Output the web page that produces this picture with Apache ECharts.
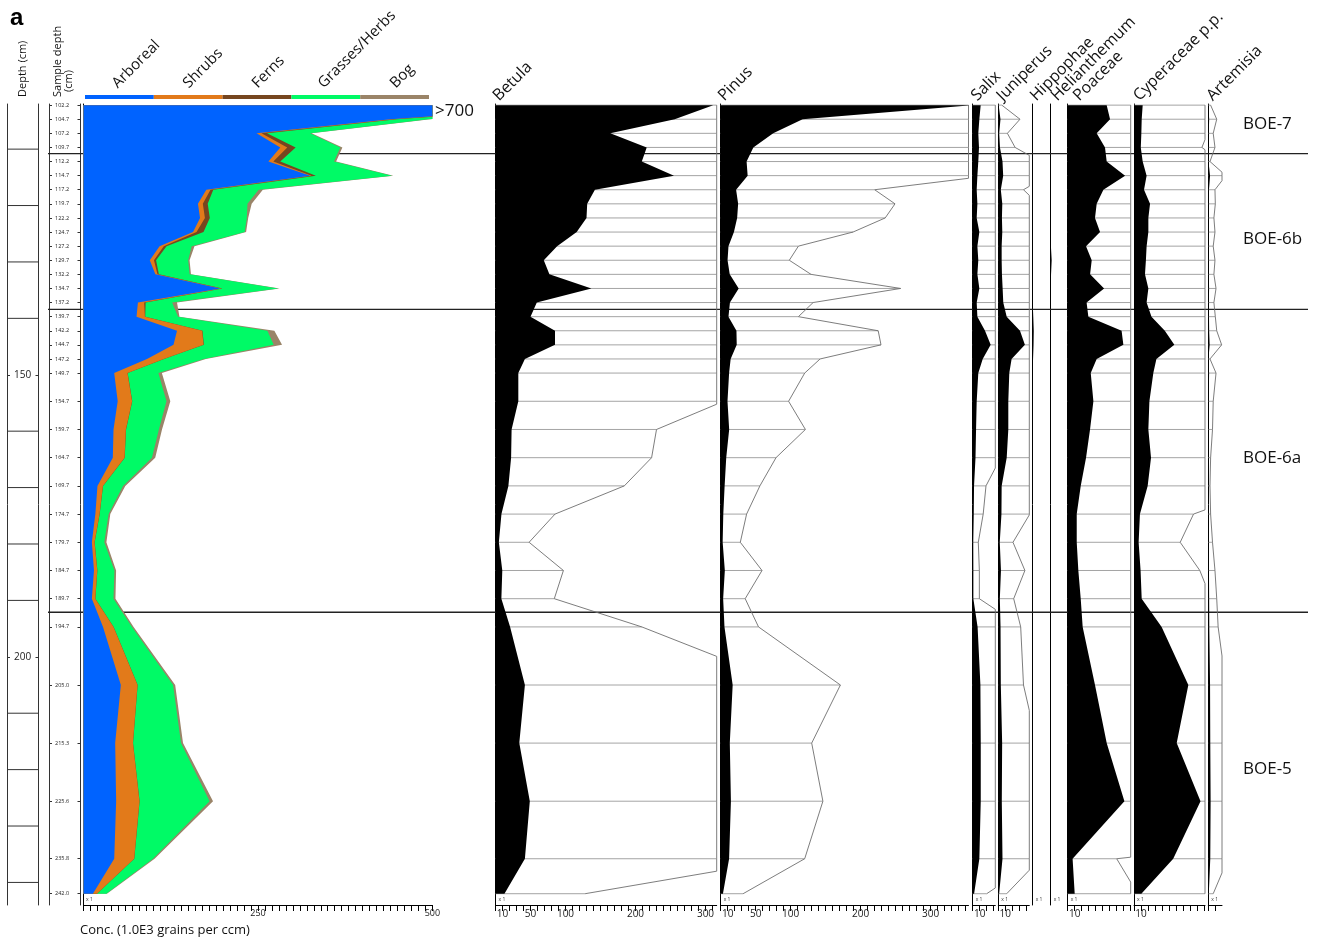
<!DOCTYPE html>
<html><head><meta charset="utf-8">
<script src="https://cdn.jsdelivr.net/npm/echarts@6/dist/echarts.min.js"></script>
<style>html,body{margin:0;padding:0;background:#fff}#c{width:1317px;height:939px}</style>
</head><body><div id="c"></div><script>
// ---------------- DATA ----------------
const sampleDepths = [102.2,104.7,107.2,109.7,112.2,114.7,117.2,119.7,122.2,124.7,127.2,129.7,132.2,134.7,137.2,139.7,142.2,144.7,147.2,149.7,154.7,159.7,164.7,169.7,174.7,179.7,184.7,189.7,194.7,205.0,215.3,225.6,235.8,242.0];
// concentration groups (1.0E3 grains per ccm)
const arboreal = [720,440,248,282,265,325,176,164,167,157,109,95,103,196,78,76,134,129,91,44,49,43,42,20,17,12,15,12,28,53.5,45.4,46.8,44,13.5];
const shrubs   = [10,6,7,10,7,2,6,7,7,5,6,6,3,2,9,12,36,43,24,19,20.6,17.7,16.8,7.8,6,3.8,4.7,4.8,15,23.9,25.4,33.4,28.6,5.7];
const ferns    = [5,3,8,12,10,6,4,7,7,10,4,3,2,1,2,0.5,0.5,0.5,0.3,0.3,0.3,0.3,0.3,0.2,0.2,0.2,0.2,0.2,0.2,0.2,0.2,0.2,0.2,0.1];
const grasses  = [20,45,62,64,77,109,65,57,53,59,36,46,44,80,38,47,93,100,57,44,49,47,39,28.6,12.8,13.8,24.4,26,26.3,50.8,68.7,100.3,26.8,13.3];
const bog      = [3,3,2,3,3,2,6,6,2,2,4,2,2,2,7,2,10,12,3,5,5.5,4.5,4.7,3.3,2.4,3,2.4,2.8,2.3,3,2.9,4.9,2.3,1];
// taxa
const betula = [311,256,164,216,209,255,142,131,130,116,88,69,77,137,59,50,85,85,42,32.6,32.6,23,22.3,18.4,8.5,4.8,9.7,8.4,20.9,42,34,49,42,12.8];
const pinus = [360,117,75,46.6,37,38.5,22,24.9,23.5,18.9,11.1,9.8,12.9,25.7,13.2,11.1,22.5,22.9,14.2,12.0,9.7,12.1,7.9,5.6,3.7,2.8,5.9,3.5,5.4,17.1,13.0,14.6,12.0,3.2];
const salix = [11.4,9.5,8,9,8,6.7,5.7,6.7,5.7,9.5,6.7,8,6.7,9.5,5.7,6.7,17.6,25.7,14.3,8,5.7,4.8,4,1.9,1.5,0.8,0.95,0.95,7,11,11.5,11.5,9.5,2.0];
const juniperus = [0.5,3.1,1.3,2.4,6,7,3.6,5.7,5.2,5.7,4.8,4.8,5.2,6.2,7.1,12,31,38,19,15.7,14.3,14.3,12,4.8,4.5,2.1,3.8,2.2,3.2,3.6,5.5,5,6,1.2];
const hippophae = [0,0,0,0,0,0,0,0,0,0,0,0,0,0,0,0.8,1.5,1.2,0.5,0,0,0,0,0,0,0,0,0,0,0,0,0,0,0];
const helianthemum = [0,0,0,0,0,0,0,0,0,0,0.3,1.4,0.5,0,0,0,0,0,0,0,0,0,0,0,0,0,0,0,0,0,0.4,0.4,0,0];
const poaceae = [55.7,60.5,41.4,53.3,55.7,82,51,41.4,39,46.2,26.2,34.3,32,52,27,29.5,77,79.5,41.4,32.9,36.7,31.9,26.2,18.6,12.9,12.9,15.2,18.6,21.4,39,55.7,81,7.0,10];
const cyperaceae = [12.4,11,10.5,9.7,12.4,18,14.3,22.9,20.5,20.5,18,17,15.7,20.5,18,25,44,57.6,32,27.6,22,20.5,24.3,19.5,8.5,6.6,9.4,11,39.5,77.6,61,95,56,10.5];
const artemisia = [0.33,1.2,0.7,0.95,0.24,2.5,0.95,1.0,0.8,0.95,0.7,0.95,0.8,1.1,0.8,1.0,1.2,1.9,0.24,1.1,0.7,0.6,0.33,0.24,0.33,0.6,0.95,1.2,1.4,2.5,2.8,3.3,2.8,0.7];
// axes / zones
const depthLabelValues = [150,200];
const depthGridLines = [110,120,130,140,160,170,180,190,210,220,230,240];
const zoneDepths = [110.8,138.4,192.1];
const zoneNames = ['BOE-7','BOE-6b','BOE-6a','BOE-5'];
const groupNames = ['Arboreal','Shrubs','Ferns','Grasses/Herbs','Bog'];
const concLabelValues = [250,500];
const bigLabelValues = [10,50,100,200,300];
const smallLabelValues = [10];
const EXAG = 10;

// ---------------- LAYOUT / STYLE ----------------
const FONT = '"Open Sans", "DejaVu Sans", sans-serif';
const Y_MIN = 102, Y_MAX = 244, TOP = 104, H = 801;
const groupColors = ['#0063ff','#e27a1a','#764620','#00fa66','#9a8468'];
const groupAnchors = [120,191,260,326,398];
const panels = [
  {name:'Betula', v:betula, left:495.5, w:221.2, max:316, labels:bigLabelValues, exag:true, lx:6},
  {name:'Pinus', v:pinus, left:720.7, w:247.8, max:354, labels:bigLabelValues, exag:true, lx:6},
  {name:'Salix', v:salix, left:972.7, w:22.6, max:32.3, labels:smallLabelValues, exag:true, lx:7},
  {name:'Juniperus', v:juniperus, left:998.3, w:31, max:44.3, labels:smallLabelValues, exag:true, lx:7},
  {name:'Hippophae', v:hippophae, left:1032.7, w:14, max:20, labels:null, exag:false, lx:6},
  {name:'Helianthemum', v:helianthemum, left:1050.7, w:14, max:20, labels:null, exag:false, lx:9},
  {name:'Poaceae', v:poaceae, left:1067.7, w:63, max:90, labels:smallLabelValues, exag:true, lx:14},
  {name:'Cyperaceae p.p.', v:cyperaceae, left:1134, w:71, max:101.4, labels:smallLabelValues, exag:true, lx:8},
  {name:'Artemisia', v:artemisia, left:1208.3, w:13.7, max:19.5, labels:[], exag:true, lx:7}
];

function stepValues(max, step){ const r=[]; for(let t=0;t<=max+1e-9;t+=step) r.push(t); return r; }
function clipPolyline(pts, max){
  const out=[];
  for(let i=0;i<pts.length;i++){
    const x=pts[i][0], y=pts[i][1];
    out.push([Math.min(x,max), y]);
    if(i<pts.length-1){
      const x1=pts[i+1][0], y1=pts[i+1][1];
      if((x-max)*(x1-max)<0){ const t=(max-x)/(x1-x); out.push([max, y+t*(y1-y)]); }
    }
  }
  return out;
}

const grids=[], xAxes=[], yAxes=[], series=[], graphics=[];
function addGrid(left,width){ grids.push({left:left, width:width, top:TOP, height:H}); return grids.length-1; }
function addY(gi, o){ yAxes.push(Object.assign({gridIndex:gi, type:'value', min:Y_MIN, max:Y_MAX, inverse:true,
  axisLabel:{show:false}, axisTick:{show:false}, splitLine:{show:false}, axisLine:{show:false}}, o||{})); return yAxes.length-1; }
function addX(gi, max, o){ xAxes.push(Object.assign({gridIndex:gi, type:'value', min:0, max:max, position:'bottom',
  axisLabel:{show:false}, axisTick:{show:false}, splitLine:{show:false}, axisLine:{show:false}}, o||{})); return xAxes.length-1; }
const lineCol = '#333';

// Depth column
{
  const g = addGrid(7, 31.5);
  const xi = addX(g, 1);
  const yi = addY(g, {position:'left', axisLine:{show:true, lineStyle:{color:lineCol, width:1}},
    axisTick:{show:true, inside:true, length:3, customValues:depthLabelValues, lineStyle:{color:lineCol}},
    axisLabel:{show:true, inside:true, margin:7, fontSize:10, color:'#222', fontFamily:FONT, customValues:depthLabelValues}});
  addY(g, {position:'right', axisLine:{show:true, lineStyle:{color:lineCol, width:1}},
    axisTick:{show:true, inside:true, length:3, customValues:depthLabelValues, lineStyle:{color:lineCol}}});
  series.push({type:'custom', xAxisIndex:xi, yAxisIndex:yi, silent:true,
    data: depthGridLines.map(d=>[0,d]),
    renderItem:(p,api)=>{ const d=api.value(1); const a=api.coord([0,d]), b=api.coord([1,d]);
      return {type:'line', shape:{x1:a[0],y1:a[1],x2:b[0],y2:b[1]}, style:{stroke:lineCol, lineWidth:1}}; }});
}
// Sample depth column
{
  const g = addGrid(49, 31.5);
  addX(g, 1);
  addY(g, {position:'left', axisLine:{show:true, lineStyle:{color:lineCol, width:1}},
    axisTick:{show:true, inside:true, length:3, customValues:sampleDepths, lineStyle:{color:lineCol}},
    axisLabel:{show:true, inside:true, margin:6, fontSize:5.5, color:'#222', fontFamily:FONT, customValues:sampleDepths,
      formatter:(v)=>Number(v).toFixed(1)}});
  addY(g, {position:'right', axisLine:{show:true, lineStyle:{color:lineCol, width:1}},
    axisTick:{show:true, inside:true, length:3, customValues:sampleDepths, lineStyle:{color:lineCol}}});
}
// Zone lines (underneath the data)
{
  const g = addGrid(48, 1260);
  const xi = addX(g, 1);
  const yi = addY(g);
  series.push({type:'custom', xAxisIndex:xi, yAxisIndex:yi, silent:true, z:1,
    data: zoneDepths.map(d=>[0,d]),
    renderItem:(p,api)=>{ const d=api.value(1); const a=api.coord([0,d]), b=api.coord([1,d]);
      return {type:'line', shape:{x1:a[0],y1:a[1],x2:b[0],y2:b[1]}, style:{stroke:'#222', lineWidth:1.4}}; }});
}
// Concentration panel
{
  const g = addGrid(83.5, 348.9);
  const xi = addX(g, 500, {axisLine:{show:true, lineStyle:{color:'#000', width:1}},
    axisTick:{show:true, length:6, customValues:stepValues(500,10), lineStyle:{color:'#000'}},
    axisLabel:{show:true, fontSize:9, margin:4, color:'#222', fontFamily:FONT, customValues:concLabelValues}});
  const yi = addY(g, {axisLine:{show:true, lineStyle:{color:'#000', width:1}}});
  const layers = [arboreal, shrubs, ferns, grasses, bog];
  const cums = []; let acc = sampleDepths.map(()=>0);
  layers.forEach(arr=>{ acc = acc.map((a,i)=>a+arr[i]); cums.push(acc); });
  for(let k=layers.length-1;k>=0;k--){
    const upper = cums[k], color = groupColors[k];
    series.push({type:'custom', xAxisIndex:xi, yAxisIndex:yi, silent:true, z:3,
      data:[[0, sampleDepths[0]]],
      renderItem:(p,api)=>{
        const curve = clipPolyline(upper.map((x,i)=>[x, sampleDepths[i]]), 500);
        const pts = [[0,sampleDepths[0]]].concat(curve, [[0,sampleDepths[sampleDepths.length-1]]]).map(q=>api.coord(q));
        return {type:'polygon', shape:{points:pts}, style:{fill:color}};
      }});
  }
}
// Taxa panels
panels.forEach(P=>{
  const g = addGrid(P.left, P.w);
  const xo = {};
  if(P.labels){
    xo.axisLine = {show:true, lineStyle:{color:'#000', width:1}};
    xo.axisTick = {show:true, length:6, customValues:stepValues(P.max,10), lineStyle:{color:'#000'}};
    xo.axisLabel = {show:true, fontSize:10, margin:4, color:'#222', fontFamily:FONT, customValues:P.labels};
  }
  const xi = addX(g, P.max, xo);
  const yi = addY(g, {axisLine:{show:true, lineStyle:{color:'#000', width:1}}});
  const n = sampleDepths.length;
  if(P.exag){
    series.push({type:'custom', xAxisIndex:xi, yAxisIndex:yi, silent:true, z:2,
      data: P.v.map((v,i)=>[v, sampleDepths[i]]),
      renderItem:(p,api)=>{ const v=api.value(0), d=api.value(1);
        const a=api.coord([0,d]), b=api.coord([Math.min(v*EXAG, P.max), d]);
        return {type:'line', shape:{x1:a[0],y1:a[1],x2:b[0],y2:b[1]}, style:{stroke:'#9a9a9a', lineWidth:0.9}}; }});
    series.push({type:'custom', xAxisIndex:xi, yAxisIndex:yi, silent:true, z:3,
      data:[[0, sampleDepths[0]]],
      renderItem:(p,api)=>{
        const pts = clipPolyline(P.v.map((v,i)=>[v*EXAG, sampleDepths[i]]), P.max).map(q=>api.coord(q));
        return {type:'polyline', shape:{points:pts}, style:{stroke:'#6e6e6e', lineWidth:0.9, fill:null}};
      }});
  }
  series.push({type:'custom', xAxisIndex:xi, yAxisIndex:yi, silent:true, z:4,
    data:[[0, sampleDepths[0]]],
    renderItem:(p,api)=>{
      const curve = clipPolyline(P.v.map((v,i)=>[v, sampleDepths[i]]), P.max);
      const pts = [[0,sampleDepths[0]]].concat(curve, [[0,sampleDepths[n-1]]]).map(q=>api.coord(q));
      return {type:'polygon', shape:{points:pts}, style:{fill:'#000'}};
    }});
  graphics.push({type:'text', x:P.left+P.lx, y:104, rotation:Math.PI/4,
    style:{text:P.name, font:'16px '+FONT, fill:'#111', align:'left', verticalAlign:'bottom'}});
  graphics.push({type:'text', x:P.left+3, y:900, style:{text:'x 1', font:'5px '+FONT, fill:'#333', align:'left', verticalAlign:'middle'}});
});

// Header group bar + labels
const barX0 = 85, barW = 68.8;
groupNames.forEach((nm,i)=>{
  graphics.push({type:'rect', shape:{x:barX0+i*barW, y:95, width:barW, height:4}, style:{fill:groupColors[i]}});
  graphics.push({type:'text', x:groupAnchors[i], y:91, rotation:Math.PI/4,
    style:{text:nm, font:'15px '+FONT, fill:'#111', align:'left', verticalAlign:'bottom'}});
});

graphics.push({type:'text', x:10, y:18, style:{text:'a', font:'bold 24px "Liberation Sans", Arial, sans-serif', fill:'#000', align:'left', verticalAlign:'middle'}});
graphics.push({type:'text', x:22.5, y:97, rotation:Math.PI/2, style:{text:'Depth (cm)', font:'11px '+FONT, fill:'#111', align:'left', verticalAlign:'middle'}});
graphics.push({type:'text', x:57.5, y:97, rotation:Math.PI/2, style:{text:'Sample depth', font:'11px '+FONT, fill:'#111', align:'left', verticalAlign:'middle'}});
graphics.push({type:'text', x:69, y:92, rotation:Math.PI/2, style:{text:'(cm)', font:'11px '+FONT, fill:'#111', align:'left', verticalAlign:'middle'}});
graphics.push({type:'text', x:435, y:111, style:{text:'>700', font:'17px '+FONT, fill:'#111', align:'left', verticalAlign:'middle'}});
graphics.push({type:'text', x:80, y:930, style:{text:'Conc. (1.0E3 grains per ccm)', font:'13px '+FONT, fill:'#111', align:'left', verticalAlign:'middle'}});
graphics.push({type:'text', x:86, y:900, style:{text:'x 1', font:'5px '+FONT, fill:'#333', align:'left', verticalAlign:'middle'}});
const zoneLabelY = [124, 239, 458, 769];
zoneNames.forEach((nm,i)=>{
  graphics.push({type:'text', x:1243, y:zoneLabelY[i], style:{text:nm, font:'17px '+FONT, fill:'#111', align:'left', verticalAlign:'middle'}});
});

const chart = echarts.init(document.getElementById('c'), null, {renderer:'canvas'});
chart.setOption({animation:false, backgroundColor:'#fff', grid:grids, xAxis:xAxes, yAxis:yAxes, series:series, graphic:{elements:graphics}});
</script></body></html>
